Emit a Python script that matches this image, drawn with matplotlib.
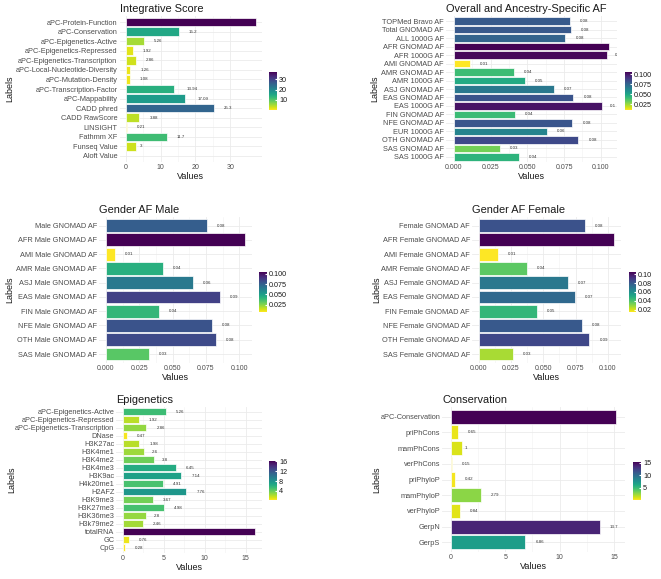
import matplotlib
matplotlib.use("Agg")
import matplotlib.pyplot as plt
import numpy as np
from matplotlib import colors, transforms
from matplotlib.cm import ScalarMappable
from matplotlib.ticker import FormatStrFormatter

plt.rcParams["font.family"] = ["Liberation Sans", "DejaVu Sans"]

W, H = 661, 579
DPI = 100

# =========================================================
# Data
# =========================================================
INT_LABELS = [
    "aPC-Protein-Function", "aPC-Conservation", "aPC-Epigenetics-Active",
    "aPC-Epigenetics-Repressed", "aPC-Epigenetics-Transcription",
    "aPC-Local-Nucleotide-Diversity", "aPC-Mutation-Density",
    "aPC-Transcription-Factor", "aPC-Mappability", "CADD phred",
    "CADD RawScore", "LINSIGHT", "Fathmm XF", "Funseq Value", "Aloft Value",
]
INT_VALUES = [37.3, 15.2, 5.26, 1.92, 2.86, 1.26, 1.08, 13.94, 17.09, 25.3,
              3.88, 0.21, 11.7, 3, np.nan]

AF_LABELS = [
    "TOPMed Bravo AF", "Total GNOMAD AF", "ALL 1000G AF", "AFR GNOMAD AF",
    "AFR 1000G AF", "AMI GNOMAD AF", "AMR GNOMAD AF", "AMR 1000G AF",
    "ASJ GNOMAD AF", "EAS GNOMAD AF", "EAS 1000G AF", "FIN GNOMAD AF",
    "NFE GNOMAD AF", "EUR 1000G AF", "OTH GNOMAD AF", "SAS GNOMAD AF",
    "SAS 1000G AF",
]
AF_VALUES = [0.0791, 0.0798, 0.0759, 0.1057, 0.1041, 0.0111, 0.0407, 0.0482,
             0.0680, 0.0814, 0.1011, 0.0414, 0.0807, 0.0632, 0.0848, 0.0314,
             0.0445]

MALE_LABELS = [
    "Male GNOMAD AF", "AFR Male GNOMAD AF", "AMI Male GNOMAD AF",
    "AMR Male GNOMAD AF", "ASJ Male GNOMAD AF", "EAS Male GNOMAD AF",
    "FIN Male GNOMAD AF", "NFE Male GNOMAD AF", "OTH Male GNOMAD AF",
    "SAS Male GNOMAD AF",
]
MALE_VALUES = [0.0755, 0.1043, 0.0070, 0.0428, 0.0650, 0.0855, 0.0398,
               0.0793, 0.0825, 0.0323]

FEMALE_LABELS = [
    "Female GNOMAD AF", "AFR Female GNOMAD AF", "AMI Female GNOMAD AF",
    "AMR Female GNOMAD AF", "ASJ Female GNOMAD AF", "EAS Female GNOMAD AF",
    "FIN Female GNOMAD AF", "NFE Female GNOMAD AF", "OTH Female GNOMAD AF",
    "SAS Female GNOMAD AF",
]
FEMALE_VALUES = [0.0824, 0.1050, 0.0148, 0.0376, 0.0689, 0.0745, 0.0453,
                 0.0803, 0.0858, 0.0267]

EPI_LABELS = [
    "aPC-Epigenetics-Active", "aPC-Epigenetics-Repressed",
    "aPC-Epigenetics-Transcription", "DNase", "H3K27ac", "H3K4me1",
    "H3K4me2", "H3K4me3", "H3K9ac", "H4k20me1", "H2AFZ", "H3K9me3",
    "H3K27me3", "H3K36me3", "H3k79me2", "totalRNA", "GC", "CpG",
]
EPI_VALUES = [5.26, 1.92, 2.86, 0.47, 1.98, 2.6, 3.8, 6.45, 7.14, 4.91, 7.76,
              3.67, 4.98, 2.8, 2.46, 16.2, 0.76, 0.28]

CONS_LABELS = [
    "aPC-Conservation", "priPhCons", "mamPhCons", "verPhCons", "priPhyloP",
    "mamPhyloP", "verPhyloP", "GerpN", "GerpS",
]
CONS_VALUES = [15.2, 0.65, 1, 0.15, 0.42, 2.79, 0.84, 13.7, 6.86]

AF_TICKS = [0.0, 0.025, 0.05, 0.075, 0.1]


# =========================================================
# Helpers
# =========================================================
def px_rect(x0, y0, x1, y1):
    return [x0 / W, 1 - y1 / H, (x1 - x0) / W, (y1 - y0) / H]


def fmt_value(v):
    return f"{round(v, 2):g}"


def draw_panel(fig, title, labels, values, xticks, xfmt, cticks, cfmt,
               panel_px, cbar_px, ylab_x):
    vals = np.array(values, dtype=float)
    vmin, vmax = np.nanmin(vals), np.nanmax(vals)
    norm = colors.Normalize(vmin, vmax)
    cmap = plt.get_cmap("viridis_r")
    n = len(labels)
    y = np.arange(n)
    ok = ~np.isnan(vals)

    ax = fig.add_axes(px_rect(*panel_px))
    ax.barh(y[ok], vals[ok], height=0.9, color=cmap(norm(vals[ok])),
            edgecolor="white", linewidth=0.5, zorder=2)

    ax.set_xlim(-0.05 * vmax, 1.05 * vmax)
    ax.set_ylim(n - 0.4, -0.6)
    ax.set_yticks(y)
    ax.set_yticklabels(labels)
    ax.set_xticks(xticks)
    ax.xaxis.set_major_formatter(FormatStrFormatter(xfmt))
    minor = [(a + b) / 2 for a, b in zip(xticks[:-1], xticks[1:])]
    ax.set_xticks(minor, minor=True)

    ax.grid(True, which="major", color="#EBEBEB", linewidth=0.6, zorder=0)
    ax.grid(True, which="minor", axis="x", color="#F2F2F2", linewidth=0.4, zorder=0)
    ax.set_axisbelow(True)
    for s in ax.spines.values():
        s.set_visible(False)
    ax.tick_params(which="both", length=0)
    ax.tick_params(axis="y", labelsize=5.3, labelcolor="#4D4D4D", pad=1.5)
    ax.tick_params(axis="x", labelsize=5.0, labelcolor="#4D4D4D", pad=1.5)

    # value labels, pushed right by about one label width and clipped to the panel
    for yi, v in zip(y[ok], vals[ok]):
        s = fmt_value(v)
        gap = 1.6 * len(s) + 0.8
        tr = transforms.offset_copy(ax.transData, fig=fig, x=gap, y=0, units="points")
        ax.text(v, yi, s, transform=tr, ha="left", va="center", fontsize=3.2,
                color="#333333", clip_on=True)

    ax.set_title(title, loc="left", fontsize=7.9, pad=3, color="#1A1A1A")
    ax.set_xlabel("Values", fontsize=6.5, labelpad=1, color="#1A1A1A")
    yc = (panel_px[1] + panel_px[3]) / 2
    fig.text(ylab_x / W, 1 - yc / H, "Labels", rotation=90, ha="center",
             va="center", fontsize=6.5, color="#1A1A1A")

    cax = fig.add_axes(px_rect(*cbar_px))
    cb = fig.colorbar(ScalarMappable(norm=norm, cmap=cmap), cax=cax, ticks=cticks)
    cb.outline.set_visible(False)
    cax.yaxis.set_major_formatter(FormatStrFormatter(cfmt))
    cax.tick_params(labelsize=5.2, length=1.5, color="white", direction="in",
                    pad=1.5, labelcolor="#1A1A1A")
    return ax


def main():
    fig = plt.figure(figsize=(W / DPI, H / DPI), dpi=DPI)

    draw_panel(fig, "Integrative Score", INT_LABELS, INT_VALUES,
               [0, 10, 20, 30], "%g", [10, 20, 30], "%g",
               (119.5, 16.3, 262, 161.7), (269, 72, 277, 110), 10)
    draw_panel(fig, "Overall and Ancestry-Specific AF", AF_LABELS, AF_VALUES,
               AF_TICKS, "%.3f", [0.025, 0.05, 0.075, 0.1], "%.3f",
               (446, 16, 617, 162), (625, 72, 632, 110), 375)
    draw_panel(fig, "Gender AF Male", MALE_LABELS, MALE_VALUES,
               AF_TICKS, "%.3f", [0.025, 0.05, 0.075, 0.1], "%.3f",
               (99, 217, 252, 362.6), (259, 272, 267, 312), 10)
    draw_panel(fig, "Gender AF Female", FEMALE_LABELS, FEMALE_VALUES,
               AF_TICKS, "%.3f", [0.02, 0.04, 0.06, 0.08, 0.1], "%.2f",
               (472, 217, 621, 362.6), (629, 272, 636, 312), 377)
    draw_panel(fig, "Epigenetics", EPI_LABELS, EPI_VALUES,
               [0, 5, 10, 15], "%g", [4, 8, 12, 16], "%g",
               (116.4, 407, 262, 552.5), (269, 461, 277, 500), 12)
    draw_panel(fig, "Conservation", CONS_LABELS, CONS_VALUES,
               [0, 5, 10, 15], "%g", [5, 10, 15], "%g",
               (442.4, 407.3, 624.6, 551.7), (633, 462, 641, 500), 377)

    fig.savefig("out.png", dpi=DPI, facecolor="white")
    plt.close(fig)


if __name__ == "__main__":
    main()
